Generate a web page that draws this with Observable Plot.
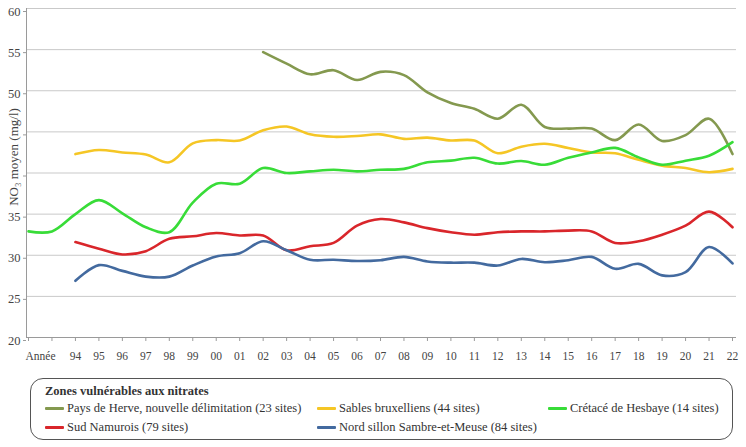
<!DOCTYPE html>
<html><head><meta charset="utf-8">
<script src="https://cdn.jsdelivr.net/npm/d3@7"></script>
<script src="https://cdn.jsdelivr.net/npm/@observablehq/plot@0.6"></script>
<style>
body{margin:0;background:#fff;}
#wrap{position:relative;width:746px;height:447px;overflow:hidden;background:#fff;}
#legend{position:absolute;left:30px;top:378px;width:703px;height:62px;border:1px solid #555;border-radius:13px;box-sizing:border-box;font-family:"Liberation Serif","Times New Roman","DejaVu Serif",serif;font-size:12.5px;color:#333;}
#legend .ttl{position:absolute;left:14px;top:5px;font-weight:bold;}
#legend .it{position:absolute;white-space:nowrap;display:flex;align-items:center;}
#legend .sw{display:inline-block;width:19px;height:3px;margin-right:3px;border-radius:1px;}
</style></head>
<body><div id="wrap"><div id="chart"></div><div id="legend"></div></div>
<script>
const years = [1992,1993,1994,1995,1996,1997,1998,1999,2000,2001,2002,2003,2004,2005,2006,2007,2008,2009,2010,2011,2012,2013,2014,2015,2016,2017,2018,2019,2020,2021,2022];
const xLabels = ["Année","","94","95","96","97","98","99","00","01","02","03","04","05","06","07","08","09","10","11","12","13","14","15","16","17","18","19","20","21","22"];
const yTicks = [20,25,30,35,40,45,50,55,60];
const yLabels = ["20","25","30","35","","","50","55","60"];
const gridValues = [25,30,35,40,45,50,55,60];

const names = [
  "Pays de Herve, nouvelle délimitation (23 sites)",
  "Sables bruxelliens (44 sites)",
  "Crétacé de Hesbaye (14 sites)",
  "Sud Namurois (79 sites)",
  "Nord sillon Sambre-et-Meuse (84 sites)"
];
const colors = ["#84994f","#f5c625","#38dc38","#d9262b","#436a9f"];

const herve = [null,null,null,null,null,null,null,null,null,null,54.7,53.3,52.0,52.5,51.3,52.3,51.9,49.8,48.5,47.8,46.6,48.3,45.6,45.4,45.4,44.0,45.9,43.9,44.6,46.6,42.3];
const sables = [null,null,42.3,42.8,42.5,42.25,41.3,43.6,44.0,43.95,45.2,45.65,44.7,44.4,44.5,44.7,44.15,44.3,43.95,43.95,42.4,43.2,43.55,43.05,42.5,42.4,41.6,40.9,40.6,40.1,40.5];
const hesbaye = [32.9,32.9,35.0,36.7,35.1,33.4,32.8,36.4,38.7,38.7,40.6,40.0,40.2,40.4,40.2,40.4,40.5,41.3,41.5,41.85,41.15,41.45,41.0,41.85,42.5,43.05,41.9,41.0,41.5,42.1,43.75];
const namurois = [null,null,31.6,30.8,30.1,30.5,32.0,32.3,32.7,32.4,32.4,30.6,31.1,31.5,33.6,34.4,34.0,33.3,32.8,32.5,32.8,32.9,32.9,33.0,32.9,31.5,31.7,32.5,33.6,35.3,33.4];
const sambre = [null,null,26.9,28.8,28.1,27.4,27.4,28.75,29.85,30.25,31.7,30.6,29.45,29.45,29.3,29.4,29.8,29.25,29.1,29.1,28.75,29.55,29.15,29.4,29.8,28.35,28.95,27.55,27.95,31.0,29.0];

const seriesValues = [herve, sables, hesbaye, namurois, sambre];
const rows = [];
seriesValues.forEach((vals, s) => vals.forEach((v, i) => {
  if (v != null) rows.push({year: years[i], value: v, name: names[s]});
}));

const font = "'Liberation Serif','Times New Roman','DejaVu Serif',serif";
const chart = Plot.plot({
  width: 746, height: 370,
  marginLeft: 26, marginRight: 10, marginTop: 8, marginBottom: 33,
  style: {fontFamily: font, fontSize: "11px", color: "#444", background: "transparent"},
  x: {domain: [years[0], years[years.length-1]], range: [28, 732]},
  y: {domain: [20, 60]},
  color: {domain: names, range: colors},
  marks: [
    Plot.ruleY(gridValues, {stroke: "#c9c9c9", strokeWidth: 1}),
    Plot.ruleY([yTicks[0]], {stroke: "#9a9a9a", strokeWidth: 1}),
    Plot.ruleX([years[0]], {stroke: "#9a9a9a", strokeWidth: 1, dx: -2}),
    Plot.axisY({ticks: yTicks, tickFormat: d => yLabels[yTicks.indexOf(d)], tickSize: 3, tickPadding: 3, stroke: "#9a9a9a", fill: "#444", fontSize: 12.5, fontFamily: font, dy: 3, label: null}),
    Plot.axisX({ticks: years, tickFormat: d => { const i = years.indexOf(d); return i === 0 ? "" : xLabels[i]; }, tickSize: 4, tickPadding: 10, stroke: "#9a9a9a", fill: "#444", fontSize: 11.5, fontFamily: font, label: null}),
    Plot.text([xLabels[0]], {x: () => years[0], frameAnchor: "bottom", text: d => d, lineAnchor: "top", dy: 14, dx: 12, fontSize: 11.5, fontFamily: font, fill: "#444"}),
    Plot.text(["NO₃ moyen (mg/l)"], {frameAnchor: "left", text: d => d, textAnchor: "middle", rotate: -90, dx: -13, dy: -16, fontSize: 13, fontFamily: font, fill: "#444"}),
    Plot.line(rows, {x: "year", y: "value", z: "name", stroke: "name", strokeWidth: 2.6, curve: "catmull-rom"})
  ]
});
document.getElementById("chart").appendChild(chart);

// legend
const legend = document.getElementById("legend");
const ttl = document.createElement("div");
ttl.className = "ttl";
ttl.textContent = "Zones vulnérables aux nitrates";
legend.appendChild(ttl);
const legendPos = [[14,22],[286,22],[517,22],[14,41],[286,41]];
names.forEach((n, i) => {
  const it = document.createElement("div");
  it.className = "it";
  it.style.left = legendPos[i][0] + "px";
  it.style.top = legendPos[i][1] + "px";
  const sw = document.createElement("span");
  sw.className = "sw";
  sw.style.background = colors[i];
  it.appendChild(sw);
  it.appendChild(document.createTextNode(n));
  legend.appendChild(it);
});
</script>
</body></html>
